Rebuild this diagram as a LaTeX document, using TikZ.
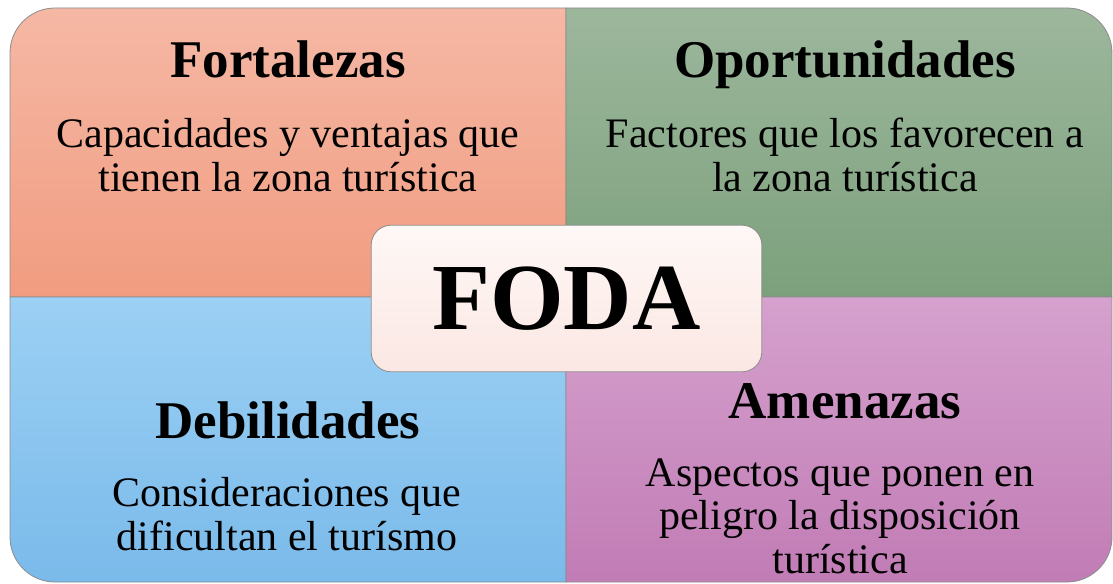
\documentclass[tikz,border=0pt]{standalone}
\usepackage{fontspec}
\setmainfont{Liberation Serif}
\definecolor{fortA}{RGB}{245,184,165}
\definecolor{fortB}{RGB}{241,156,128}
\definecolor{oporA}{RGB}{157,183,157}
\definecolor{oporB}{RGB}{124,160,124}
\definecolor{debA}{RGB}{156,208,244}
\definecolor{debB}{RGB}{122,186,234}
\definecolor{amenA}{RGB}{213,161,205}
\definecolor{amenB}{RGB}{193,124,181}
\definecolor{centA}{RGB}{254,248,246}
\definecolor{centB}{RGB}{251,231,227}

\begin{document}
\begin{tikzpicture}[x=0.75pt,y=0.75pt,
	quad/.style={draw=black!45,line width=0.6pt},
	titulo/.style={anchor=base,inner sep=0,font=\fontsize{39.75}{40}\selectfont\bfseries},
	texto/.style={anchor=base,inner sep=0,align=center,font=\fontsize{31.5}{32.6}\selectfont},
	centro/.style={draw=black!45,line width=0.6pt,rounded corners=15pt,top color=centA,bottom color=centB,
		minimum width=293pt,minimum height=110pt,inner sep=0,font=\fontsize{71}{72}\selectfont\bfseries}]
	\useasboundingbox (0,0) rectangle (1113,583);
	%% cuadrantes
	\shade[quad,top color=fortA,bottom color=fortB] (10,286) -- (10,530) arc[start angle=180,end angle=90,radius=33.75pt] -- (566,575) -- (566,286) -- cycle;
	\shade[quad,top color=oporA,bottom color=oporB] (566,286) -- (566,575) -- (1067,575) arc[start angle=90,end angle=0,radius=33.75pt] -- (1112,286) -- cycle;
	\shade[quad,top color=debA,bottom color=debB] (10,286) -- (10,46) arc[start angle=180,end angle=270,radius=33.75pt] -- (566,1) -- (566,286) -- cycle;
	\shade[quad,top color=amenA,bottom color=amenB] (566,286) -- (1112,286) -- (1112,46) arc[start angle=0,end angle=-90,radius=33.75pt] -- (566,1) -- cycle;
	%% textos (base = ultima linea)
	\node[titulo] (fort) at (288,505) {Fortalezas};
	\node[texto] (fortT) at (288,392) {Capacidades y ventajas que\\tienen la zona turística};
	\node[titulo] (opor) at (845,505) {Oportunidades};
	\node[texto] (oporT) at (845,392) {Factores que los favorecen a\\la zona turística};
	\node[titulo] (deb) at (288,145) {Debilidades};
	\node[texto] (debT) at (287,33) {Consideraciones que\\dificultan el turísmo};
	\node[titulo] (amen) at (845,165) {Amenazas};
	\node[texto] (amenT) at (840,10) {Aspectos que ponen en\\peligro la disposición\\turística};
	%% centro
	\node[centro] (foda) at (566.5,284.5) {FODA};
\end{tikzpicture}
\end{document}
